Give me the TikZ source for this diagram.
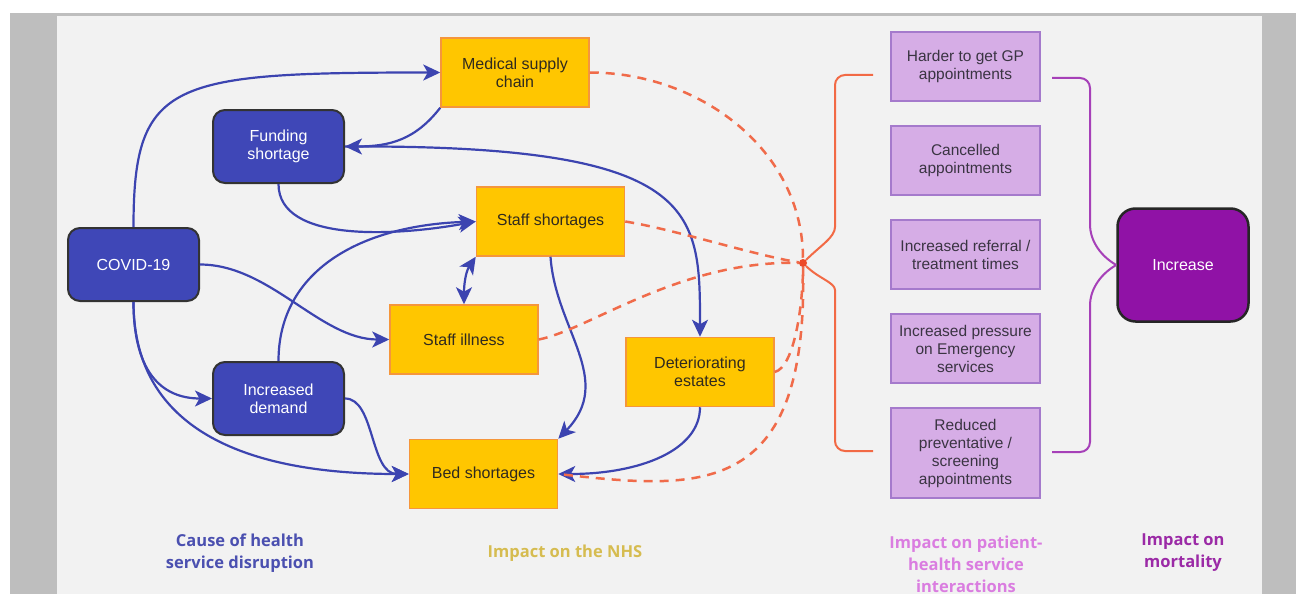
\documentclass[tikz,border=0pt]{standalone}
\usepackage{fontspec}
\setmainfont{Liberation Sans}
\newfontfamily\headfont{Open Sans}
\usetikzlibrary{arrows.meta}
\definecolor{causeblue}{RGB}{63,71,183}
\definecolor{linkblue}{RGB}{60,68,176}
\definecolor{nhsfill}{RGB}{255,198,0}
\definecolor{nhsedge}{RGB}{245,150,60}
\definecolor{nhsink}{RGB}{48,42,30}
\definecolor{ptfill}{RGB}{214,173,230}
\definecolor{ptedge}{RGB}{165,122,204}
\definecolor{ptink}{RGB}{58,52,66}
\definecolor{mortfill}{RGB}{144,18,166}
\definecolor{riskred}{RGB}{240,107,74}
\definecolor{hubred}{RGB}{236,74,40}
\definecolor{brorange}{RGB}{242,106,69}
\definecolor{brpurple}{RGB}{166,64,184}
\definecolor{panel}{RGB}{242,242,242}
\definecolor{frame}{RGB}{190,190,190}
\definecolor{causetext}{RGB}{75,80,176}
\definecolor{nhstext}{RGB}{214,188,80}
\definecolor{pttext}{RGB}{218,125,224}
\definecolor{morttext}{RGB}{155,42,166}
\begin{document}
\begin{tikzpicture}[x=1pt, y=1pt,
  cause/.style={rounded corners=12pt, draw=black!80, line width=2pt, fill=causeblue, text=white, minimum width=131pt, minimum height=73pt, align=center, font=\fontsize{16}{18}\selectfont},
  nhs/.style={draw=nhsedge, line width=1.5pt, fill=nhsfill, text=nhsink, minimum width=148pt, minimum height=69pt, align=center, font=\fontsize{16}{18}\selectfont},
  pt/.style={draw=ptedge, line width=1.5pt, fill=ptfill, text=ptink, minimum width=149pt, minimum height=69pt, align=center, font=\fontsize{15.5}{18}\selectfont},
  mort/.style={rounded corners=18pt, draw=black!85, line width=2.5pt, fill=mortfill, text=white, minimum width=131pt, minimum height=113pt, align=center, font=\fontsize{16}{18}\selectfont},
  head/.style={align=center, font=\headfont\bfseries\fontsize{16.5}{22}\selectfont},
  link/.style={draw=linkblue, line width=2.2pt, -{Stealth[length=17pt,width=16pt,inset=4.5pt]}},
  twolink/.style={draw=linkblue, line width=2.2pt, {Stealth[length=17pt,width=16pt,inset=4.5pt]}-{Stealth[length=17pt,width=16pt,inset=4.5pt]}},
  risk/.style={draw=riskred, line width=2.5pt, dash pattern=on 9pt off 7pt},
  obrace/.style={draw=brorange, line width=2pt},
  pbrace/.style={draw=brpurple, line width=2pt}]
\fill[white] (0,0) rectangle (1296,-594);
\fill[frame] (10,-13) rectangle (1296,-594);
\fill[panel] (57,-16) rectangle (1262,-594);
\useasboundingbox (0,0) rectangle (1296,-594);
\node[cause] (covid) at (133.5,-264.5) {COVID-19};
\node[cause] (fund) at (278.5,-146.5) {Funding\\shortage};
\node[cause] (demand) at (278.5,-398.5) {Increased\\demand};
\node[nhs] (msc) at (515,-72.5) {Medical supply\\chain};
\node[nhs] (stshort) at (550.5,-221.5) {Staff shortages};
\node[nhs] (stillness) at (464,-339.5) {Staff illness};
\node[nhs] (estates) at (700,-372) {Deteriorating\\estates};
\node[nhs] (bed) at (483.5,-474) {Bed shortages};
\node[pt] (gp) at (965.5,-66.5) {Harder to get GP\\appointments};
\node[pt] (cancel) at (965.5,-160.5) {Cancelled\\appointments};
\node[pt] (referral) at (965.5,-254.5) {Increased referral /\\treatment times};
\node[pt] (pressure) at (965.5,-348.5) {Increased pressure\\on Emergency\\services};
\node[pt, minimum height=90pt] (prevent) at (965.5,-453) {Reduced\\preventative /\\screening\\appointments};
\node[mort] (increase) at (1183,-265) {Increase};
\node[circle, fill=hubred, inner sep=0pt, minimum size=8pt] (hub) at (803,-263) {};
\coordinate (otop) at (873,-75);
\coordinate (obot) at (873,-451);
\coordinate (ptop) at (1052,-78);
\coordinate (pbot) at (1052,-452);
\draw[link] (covid.north) .. controls +(0,147) and +(-270,0) .. (msc.west);
\draw[link] (msc.south west) .. controls +(-25,-32) and +(45,0) .. (fund.east);
\draw[link] (fund.east) .. controls +(355,2) and +(0,127) .. (estates.north);
\draw[link] (fund.south) .. controls +(0,-60) and +(-76,-14) .. (stshort.west);
\draw[link] (demand.north) .. controls +(0,90) and +(-116,-4) .. (stshort.west);
\draw[link] (covid.east) .. controls +(70,0) and +(-69,0) .. (stillness.west);
\draw[link] (covid.south) .. controls +(0,-68) and +(-52,0) .. (demand.west);
\draw[link] (covid.south) .. controls +(0,-118) and +(-179,0) .. (bed.west);
\draw[link] (demand.east) .. controls +(30,0) and +(-39,0) .. (bed.west);
\draw[twolink] (stshort.south west) .. controls +(-10,-15) and +(0,20) .. (stillness.north);
\draw[link] (stshort.south) .. controls +(5,-73) and +(57,59) .. (bed.north east);
\draw[link] (estates.south) .. controls +(0,-43) and +(82,0) .. (bed.east);
\draw[risk] (msc.east) .. controls +(110,0) and +(0,113) .. (hub);
\draw[risk] (hub) .. controls +(5,-237) and +(142,-16) .. (bed.east);
\draw[risk] (stshort.east) .. controls +(50,-8) and +(-50,8) .. (hub);
\draw[risk] (stillness.east) .. controls +(51,10) and +(-123,3) .. (hub);
\draw[risk] (estates.east) .. controls +(20,5) and +(0,-40) .. (hub);
\draw[obrace, rounded corners=10pt] (otop) -| (835,-217) to[out=-90,in=45] (hub);
\draw[obrace, rounded corners=10pt] (hub) to[out=-45,in=90] (835,-300) |- (obot);
\draw[pbrace, rounded corners=10pt] (ptop) -| (1090,-215) to[out=-90,in=150] (increase.west);
\draw[pbrace, rounded corners=10pt] (increase.west) to[out=-150,in=90] (1090,-315) |- (pbot);
\node[head, text=causetext] (causelbl) at (240,-553) {Cause of health\\service disruption};
\node[head, text=nhstext] (nhslbl) at (565,-553) {Impact on the NHS};
\node[head, text=pttext] (ptlbl) at (966,-564) {Impact on patient-\\health service\\interactions};
\node[head, text=morttext] (mortlbl) at (1183,-553) {Impact on\\mortality};

\end{tikzpicture}
\end{document}
